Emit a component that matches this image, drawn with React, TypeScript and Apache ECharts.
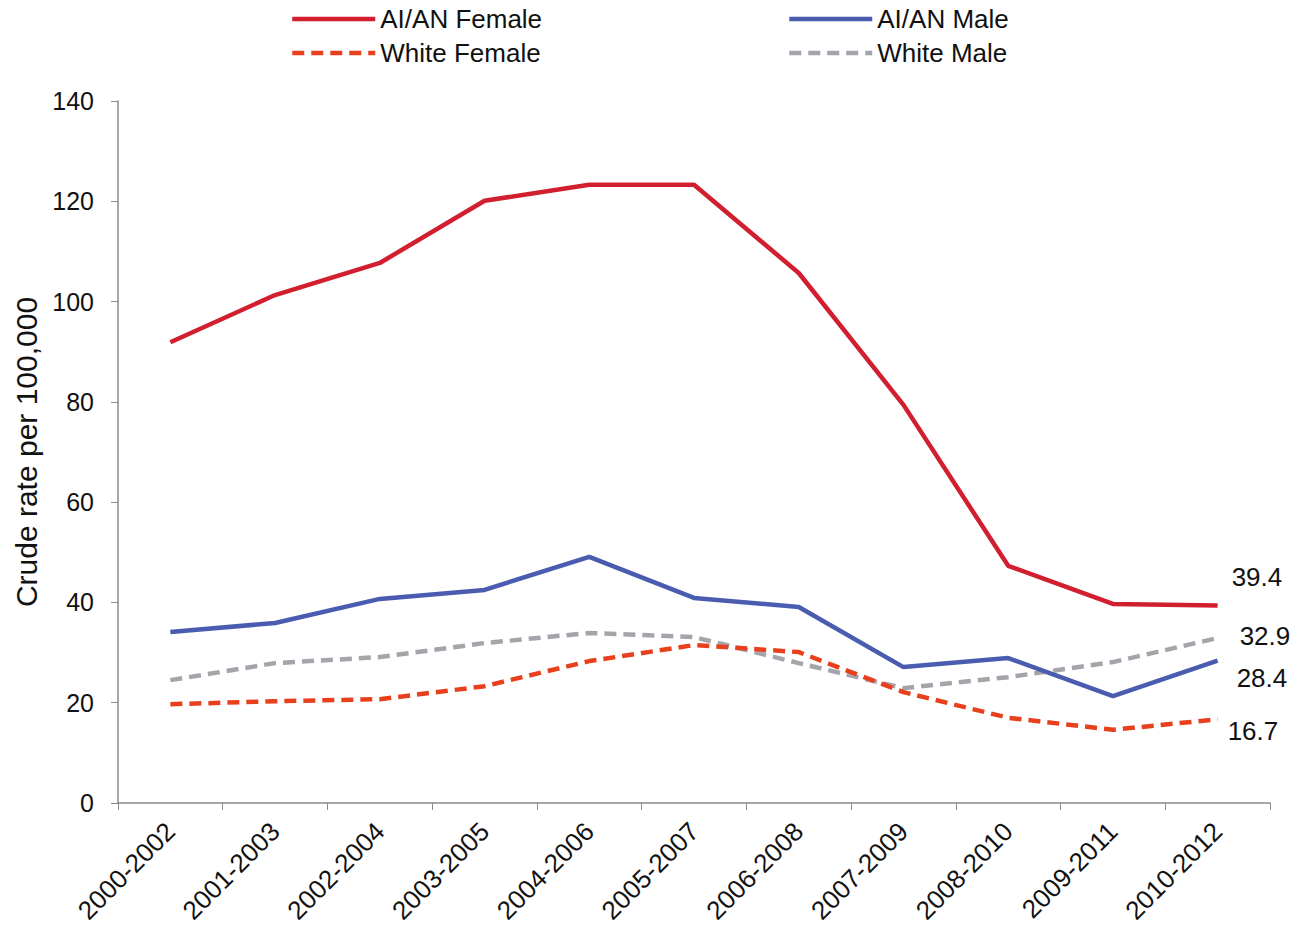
import React, { useEffect, useRef } from "react";
import * as echarts from "echarts";

const categories = [
  "2000-2002", "2001-2003", "2002-2004", "2003-2005", "2004-2006", "2005-2007",
  "2006-2008", "2007-2009", "2008-2010", "2009-2011", "2010-2012",
];
const aianFemale = [91.9, 101.3, 107.7, 120.1, 123.3, 123.3, 105.7, 79.4, 47.3, 39.7, 39.4];
const aianMale = [34.1, 35.9, 40.7, 42.5, 49.1, 40.9, 39.1, 27.1, 28.9, 21.3, 28.4];
const whiteFemale = [19.7, 20.3, 20.7, 23.3, 28.3, 31.5, 30.1, 22.1, 17.0, 14.6, 16.7];
const whiteMale = [24.5, 27.9, 29.1, 31.9, 33.9, 33.1, 27.9, 22.9, 25.1, 28.1, 32.9];
const yTicks = { min: 0, max: 140, interval: 20 };

const FONT = "Liberation Sans, Arial, sans-serif";

export default function App() {
  const ref = useRef<HTMLDivElement>(null);
  useEffect(() => {
    if (!ref.current) return;
    const chart = echarts.init(ref.current, null, { renderer: "svg" });
    const mk = (name: string, data: number[], color: string, dashed: boolean, off: number[], z: number) => ({
      name,
      type: "line",
      data,
      symbol: "none",
      z,
      lineStyle: { color, width: 4.5, type: dashed ? [12, 7] : "solid" },
      itemStyle: { color },
      endLabel: {
        show: true,
        formatter: (p: any) => String(Number(p.value).toFixed(1)),
        color: "#111",
        fontSize: 26,
        fontFamily: FONT,
        distance: 0,
        offset: off,
      },
    });
    const legendItem = (name: string, left: number, top: number) => ({
      data: [name],
      left,
      top,
      itemWidth: 83,
      itemHeight: 14,
      itemGap: 0,
      padding: 0,
      itemStyle: { opacity: 0 },
      lineStyle: { width: 4.5 },
      textStyle: { fontSize: 26, fontFamily: FONT, color: "#111", padding: [0, 0, 0, 0] },
    });
    chart.setOption({
      animation: false,
      backgroundColor: "#fff",
      legend: [
        legendItem("AI/AN Female", 290, 6),
        legendItem("AI/AN Male", 787, 6),
        legendItem("White Female", 290, 40),
        legendItem("White Male", 787, 40),
      ],
      grid: { left: 118, right: 31, top: 101, bottom: 138 },
      xAxis: {
        type: "category",
        data: categories,
        boundaryGap: true,
        axisLine: { lineStyle: { color: "#8a8a8a", width: 1.5 } },
        axisTick: { show: true, length: 7, alignWithLabel: false, lineStyle: { color: "#8a8a8a" } },
        axisLabel: { rotate: 45, fontSize: 26, fontFamily: FONT, color: "#111", margin: 24, interval: 0 },
        splitLine: { show: false },
      },
      yAxis: {
        type: "value",
        min: yTicks.min,
        max: yTicks.max,
        interval: yTicks.interval,
        name: "Crude rate per 100,000",
        nameLocation: "middle",
        nameGap: 76,
        nameTextStyle: { fontSize: 30, fontFamily: FONT, color: "#111" },
        axisLine: { show: true, lineStyle: { color: "#8a8a8a", width: 1.5 } },
        axisTick: { show: true, length: 7, lineStyle: { color: "#8a8a8a" } },
        axisLabel: { fontSize: 25, fontFamily: FONT, color: "#111", margin: 24 },
        splitLine: { show: false },
      },
      series: [
        mk("White Male", whiteMale, "#a4a4ab", true, [22, -2], 2),
        mk("White Female", whiteFemale, "#e8401c", true, [10, 12], 3),
        mk("AI/AN Male", aianMale, "#4a5cb0", false, [19, 17], 4),
        mk("AI/AN Female", aianFemale, "#d21f2f", false, [14, -28], 5),
      ],
    });
    return () => chart.dispose();
  }, []);
  return (
    <div
      ref={ref}
      style={{ position: "absolute", left: 0, top: 0, width: 1301, height: 941 }}
    />
  );
}
